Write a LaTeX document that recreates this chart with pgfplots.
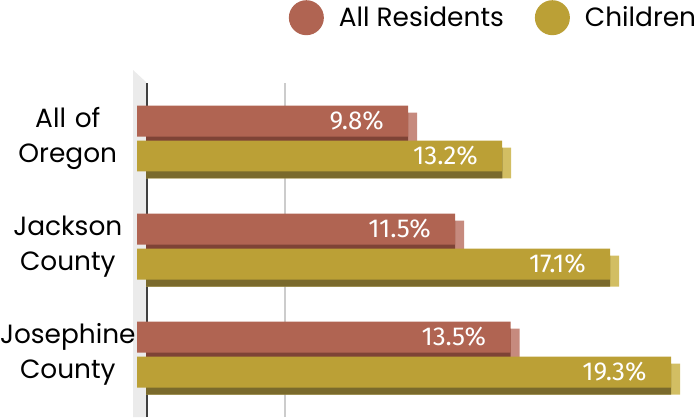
\documentclass[border=0pt]{standalone}
\usepackage{fontspec}
\setmainfont{Poppins}
\newfontfamily\valfont{Fira Sans}
\usepackage{pgfplots}
\pgfplotsset{compat=1.18}
\definecolor{resred}{HTML}{B06452}
\definecolor{resredside}{HTML}{C68A7E}
\definecolor{resreddark}{HTML}{7E4336}
\definecolor{kidgold}{HTML}{BBA036}
\definecolor{kidgoldside}{HTML}{D2BE63}
\definecolor{kidgolddark}{HTML}{7A6A2C}
\begin{document}
\begin{tikzpicture}[x=1bp,y=1bp]
% back wall and back grid lines (decoration)
\fill[black!8] (133,0) -- (133,347) -- (146,335) -- (146,0) -- cycle;
\draw[black!20, line width=1.5bp] (285,0) -- (285,334);
\draw[black!75, line width=2bp] (147,0) -- (147,334);
\begin{axis}[
  at={(137bp,0bp)}, anchor=south west,
  scale only axis, width=561bp, height=341bp,
  xmin=0, xmax=20.275,
  ymin=-0.5787, ymax=2.5787, y dir=reverse,
  axis line style={draw=none},
  xtick=\empty,
  ytick={0,1,2},
  yticklabels={{All of\\Oregon},{Jackson\\County},{Josephine\\County}},
  major tick length=0pt,
  yticklabel style={align=center, text width=136bp, anchor=east, inner sep=0pt, xshift=-1bp,
    font=\fontsize{26.5}{35}\selectfont},
  xbar, bar width=0.287,
  clip=false,
  /pgf/number format/assume math mode=true,
  legend columns=2,
  legend style={at={(0.997,1.2229)}, anchor=north east, draw=none, fill=none, inner sep=0pt,
    font=\fontsize{26.5}{30}\selectfont,
    nodes={inner xsep=0pt},
    /tikz/every odd column/.append style={column sep=15bp},
    /tikz/every even column/.append style={column sep=31bp}},
  legend image code/.code={\fill[#1] (17.5bp,0bp) circle (17.5bp);},
  every node near coord/.append style={anchor=east, xshift=-21bp, text=white,
    font=\valfont\fontsize{26}{26}\selectfont},
]
% All Residents
\addplot[fill=resredside, draw=none, bar shift=-0.162, xshift=9bp, yshift=-7bp, forget plot]
  coordinates {(9.8,0) (11.5,1) (13.5,2)};
\addplot[fill=resreddark, draw=none, bar shift=-0.162, xshift=9bp, yshift=-7bp, forget plot]
  coordinates {(9.475,0) (11.175,1) (13.175,2)};
\addplot[fill=resred, draw=none, bar shift=-0.162,
  nodes near coords={\pgfmathprintnumber[fixed,precision=1,fixed zerofill]{\pgfplotspointmeta}\%}]
  coordinates {(9.8,0) (11.5,1) (13.5,2)};
% Children
\addplot[fill=kidgoldside, draw=none, bar shift=0.162, xshift=9bp, yshift=-7bp, forget plot]
  coordinates {(13.2,0) (17.1,1) (19.3,2)};
\addplot[fill=kidgolddark, draw=none, bar shift=0.162, xshift=9bp, yshift=-7bp, forget plot]
  coordinates {(12.875,0) (16.775,1) (18.975,2)};
\addplot[fill=kidgold, draw=none, bar shift=0.162,
  nodes near coords={\pgfmathprintnumber[fixed,precision=1,fixed zerofill]{\pgfplotspointmeta}\%}]
  coordinates {(13.2,0) (17.1,1) (19.3,2)};
\legend{All Residents, Children}
\end{axis}
\pgfresetboundingbox
\useasboundingbox (0,0) rectangle (698,417);
\end{tikzpicture}
\end{document}
